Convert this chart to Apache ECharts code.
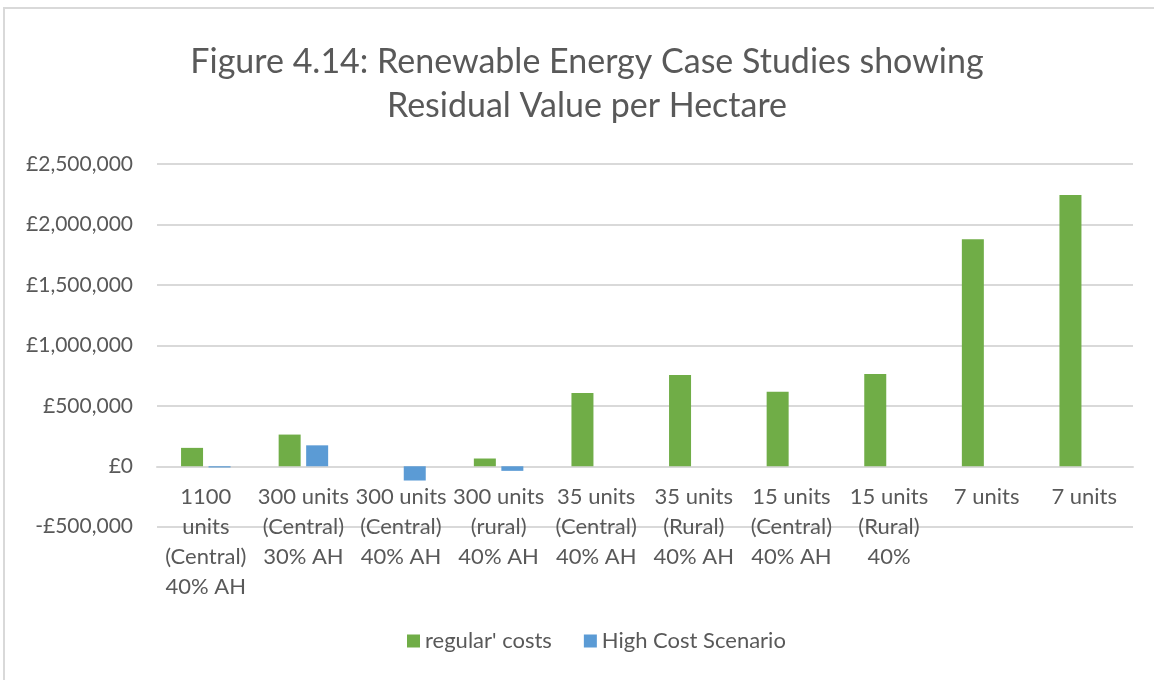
<!DOCTYPE html>
<html>
<head>
<meta charset="utf-8">
<script src="https://cdn.jsdelivr.net/npm/echarts@6/dist/echarts.min.js"></script>
<style>
html,body{margin:0;padding:0;background:#fff;}
#chart{width:1154px;height:680px;}
</style>
</head>
<body>
<div id="chart"></div>
<script>
var titleText = "Figure 4.14: Renewable Energy Case Studies showing\nResidual Value per Hectare";
var categories = [
  "1100\nunits\n(Central)\n40% AH",
  "300 units\n(Central)\n30% AH",
  "300 units\n(Central)\n40% AH",
  "300 units\n(rural)\n40% AH",
  "35 units\n(Central)\n40% AH",
  "35 units\n(Rural)\n40% AH",
  "15 units\n(Central)\n40% AH",
  "15 units\n(Rural)\n40%",
  "7 units",
  "7 units"
];
var seriesNames = ["regular' costs", "High Cost Scenario"];
var regularCosts = [152000, 262000, null, 64000, 605000, 754000, 616000, 764000, 1878000, 2244000];
var highCost = [-10000, 173000, -118000, -38000, null, null, null, null, null, null];
var yTicks = { min: -500000, max: 2500000, interval: 500000 };

var FONT = "Lato";
var TXT = "#595959";
var chart = echarts.init(document.getElementById('chart'), null, {renderer: 'canvas'});
function fmt(v) {
  var s = Math.abs(v).toString().replace(/\B(?=(\d{3})+(?!\d))/g, ",");
  return (v < 0 ? "-" : "") + "\u00a3" + s;
}
chart.setOption({
  animation: false,
  backgroundColor: '#fff',
  graphic: [{
    type: 'rect', silent: true,
    shape: {x: 4, y: 8, width: 1300, height: 800},
    style: {fill: 'none', stroke: '#d9d9d9', lineWidth: 2}
  }],
  title: {
    text: titleText,
    left: 582, top: 35, textAlign: 'center',
    textStyle: {fontFamily: FONT, fontSize: 34, fontWeight: 'normal', color: TXT, lineHeight: 44}
  },
  legend: {
    data: seriesNames,
    left: 402, top: 625,
    itemWidth: 13, itemHeight: 13, itemGap: 32,
    icon: 'rect',
    textStyle: {fontFamily: FONT, fontSize: 22, color: TXT}
  },
  grid: {left: 157, right: 21, top: 164, bottom: 153.3, containLabel: false},
  xAxis: {
    type: 'category',
    data: categories,
    offset: -60,
    axisLine: {onZero: false, lineStyle: {color: '#d9d9d9', width: 2}},
    axisTick: {show: false},
    axisLabel: {interval: 0, fontFamily: FONT, fontSize: 22, color: TXT, lineHeight: 30, margin: 15}
  },
  yAxis: {
    type: 'value',
    min: yTicks.min, max: yTicks.max, interval: yTicks.interval,
    axisLine: {show: false},
    axisTick: {show: false},
    splitLine: {lineStyle: {color: '#d9d9d9', width: 2}},
    axisLabel: {fontFamily: FONT, fontSize: 21, color: TXT, margin: 24, formatter: fmt}
  },
  series: [
    {name: seriesNames[0], type: 'bar', data: regularCosts, barWidth: 22, barGap: '25%',
     itemStyle: {color: '#70AD47'}},
    {name: seriesNames[1], type: 'bar', data: highCost, barWidth: 22, barGap: '25%',
     itemStyle: {color: '#5B9BD5'}}
  ]
});
</script>
</body>
</html>
